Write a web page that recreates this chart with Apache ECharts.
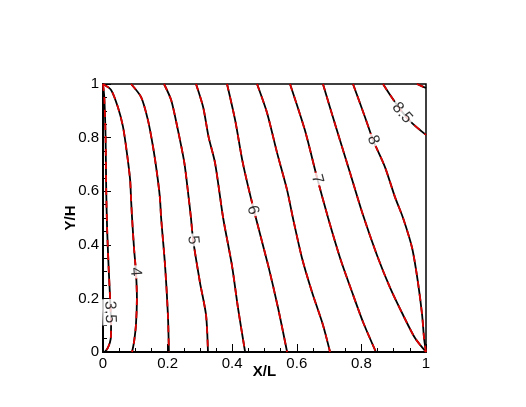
<!DOCTYPE html>
<html>
<head>
<meta charset="utf-8">
<script src="https://cdn.jsdelivr.net/npm/echarts@6/dist/echarts.min.js"></script>
<style>
html,body{margin:0;padding:0;background:#fff;}
#chart{width:526px;height:407px;}
</style>
</head>
<body>
<div id="chart"></div>
<script>
// Contour levels and traced contour lines, [X/L, Y/H]
const levels = ['3.5','4','4.5','5','5.5','6','6.5','7','7.5','8','8.5','9'];
const c35 = [[0,1],[0.004,0.95],[0.008,0.8],[0.010,0.6],[0.013,0.45],[0.018,0.3],[0.022,0.2],[0.025,0.1],[0.024,0.05],[0.015,0.015],[0.005,0]];
const c4  = [[0,1],[0.025,0.978],[0.046,0.914],[0.062,0.840],[0.074,0.743],[0.084,0.642],[0.087,0.567],[0.090,0.5],[0.096,0.388],[0.102,0.299],[0.105,0.201],[0.102,0.101],[0.096,0.037],[0.090,0]];
const c45 = [[0.087,1],[0.118,0.951],[0.139,0.866],[0.155,0.765],[0.167,0.668],[0.176,0.578],[0.180,0.5],[0.192,0.325],[0.201,0.138],[0.204,0]];
const c5  = [[0.189,1],[0.211,0.940],[0.232,0.828],[0.252,0.705],[0.265,0.578],[0.272,0.504],[0.279,0.418],[0.300,0.261],[0.319,0.138],[0.325,0]];
const c55 = [[0.288,1],[0.310,0.914],[0.327,0.802],[0.347,0.705],[0.372,0.5],[0.399,0.325],[0.418,0.164],[0.440,0]];
const c6  = [[0.384,1],[0.409,0.866],[0.433,0.705],[0.467,0.530],[0.511,0.325],[0.542,0.164],[0.570,0]];
const c65 = [[0.477,1],[0.508,0.892],[0.539,0.743],[0.570,0.604],[0.588,0.5],[0.616,0.351],[0.647,0.224],[0.681,0.101],[0.703,0]];
const c7  = [[0.579,1],[0.625,0.828],[0.663,0.649],[0.697,0.5],[0.734,0.351],[0.771,0.224],[0.805,0.112],[0.845,0]];
const c75 = [[0.681,1],[0.724,0.828],[0.765,0.668],[0.805,0.511],[0.848,0.362],[0.889,0.239],[0.929,0.138],[0.966,0.052],[1,0]];
const c8  = [[0.774,1],[0.811,0.877],[0.836,0.791],[0.873,0.690],[0.904,0.578],[0.929,0.5],[0.957,0.388],[0.975,0.261],[0.988,0.138],[0.994,0.052],[1,0]];
const c85 = [[0.867,1],[0.889,0.959],[0.926,0.896],[0.957,0.854],[1,0.810]];
const c9  = [[0.972,1],[0.985,0.993],[1,0.985]];
const contours = [c35,c4,c45,c5,c55,c6,c65,c7,c75,c8,c85,c9];
// Contour labels: [text, X/L, Y/H]
const labelPts = [['3.5',0.022,0.149],['4',0.101,0.299],['5',0.279,0.418],['6',0.464,0.530],['7',0.663,0.645],['8',0.836,0.791],['8.5',0.926,0.892]];

const FONT = 'Liberation Sans, Arial, Helvetica, sans-serif';
const chart = echarts.init(document.getElementById('chart'), null, {renderer:'canvas'});

const series = [];
contours.forEach((c, i) => {
  series.push({type:'line', name:levels[i]+'a', data:c, symbol:'none', smooth:0.25, silent:true,
    lineStyle:{color:'#000', width:1.8}, z:2});
});
contours.forEach((c, i) => {
  series.push({type:'line', name:levels[i]+'b', data:c, symbol:'none', smooth:0.25, silent:true,
    lineStyle:{color:'#e00000', width:1.8, type:[7,6]}, z:3});
});

function labelSeries(rots){
  return {type:'scatter', z:10, silent:true, symbolSize:1,
    itemStyle:{color:'rgba(0,0,0,0)'},
    data: labelPts.map((p,i)=>({value:[p[1],p[2]], name:p[0],
      label:{show:true, position:'inside', formatter:p[0], rotate: rots ? rots[i] : 0,
        color:'#000', fontSize:16, fontFamily:FONT, backgroundColor:'#fff', padding:[0,2]}}))
  };
}

const option = {
  animation:false,
  backgroundColor:'#fff',
  grid:{left:103, right:100, top:84, bottom:55, show:true, borderColor:'#000', borderWidth:1.5, backgroundColor:'transparent'},
  xAxis:{type:'value', min:0, max:1, interval:0.2,
    name:'X/L', nameLocation:'middle', nameGap:12, nameMoveOverlap:false,
    nameTextStyle:{fontFamily:FONT, fontSize:15, fontWeight:'bold', color:'#000'},
    axisLine:{show:true, lineStyle:{color:'#000', width:2}},
    axisTick:{show:true, inside:true, length:8, lineStyle:{color:'#000', width:1}},
    minorTick:{show:true, splitNumber:4, length:4, lineStyle:{color:'#000', width:1}},
    splitLine:{show:false},
    axisLabel:{fontFamily:FONT, fontSize:15, color:'#000', margin:4}},
  yAxis:{type:'value', min:0, max:1, interval:0.2,
    name:'Y/H', nameLocation:'middle', nameGap:25, nameMoveOverlap:false,
    nameTextStyle:{fontFamily:FONT, fontSize:15, fontWeight:'bold', color:'#000'},
    axisLine:{show:true, lineStyle:{color:'#000', width:2}},
    axisTick:{show:true, inside:true, length:8, lineStyle:{color:'#000', width:1}},
    minorTick:{show:true, splitNumber:4, length:4, lineStyle:{color:'#000', width:1}},
    splitLine:{show:false},
    axisLabel:{fontFamily:FONT, fontSize:15, color:'#000', margin:4}},
  series: series.concat([labelSeries(null)])
};
chart.setOption(option);

// Compute label rotation from the local contour direction (pixel space)
const rots = labelPts.map(p => {
  const c = contours[levels.indexOf(p[0])];
  const lp = chart.convertToPixel({gridIndex:0}, [p[1],p[2]]);
  let best = 1e9, ang = -90;
  for (let k=0; k<c.length-1; k++){
    const a = chart.convertToPixel({gridIndex:0}, c[k]);
    const b = chart.convertToPixel({gridIndex:0}, c[k+1]);
    const mx=(a[0]+b[0])/2, my=(a[1]+b[1])/2;
    const d=(mx-lp[0])**2+(my-lp[1])**2;
    if (d<best){ best=d;
      let dx=b[0]-a[0], dy=b[1]-a[1];
      if (dy<0){dx=-dx;dy=-dy;}
      ang = -Math.atan2(dy,dx)*180/Math.PI;
    }
  }
  return ang;
});
option.series[option.series.length-1] = labelSeries(rots);
chart.setOption(option, true);
</script>
</body>
</html>
